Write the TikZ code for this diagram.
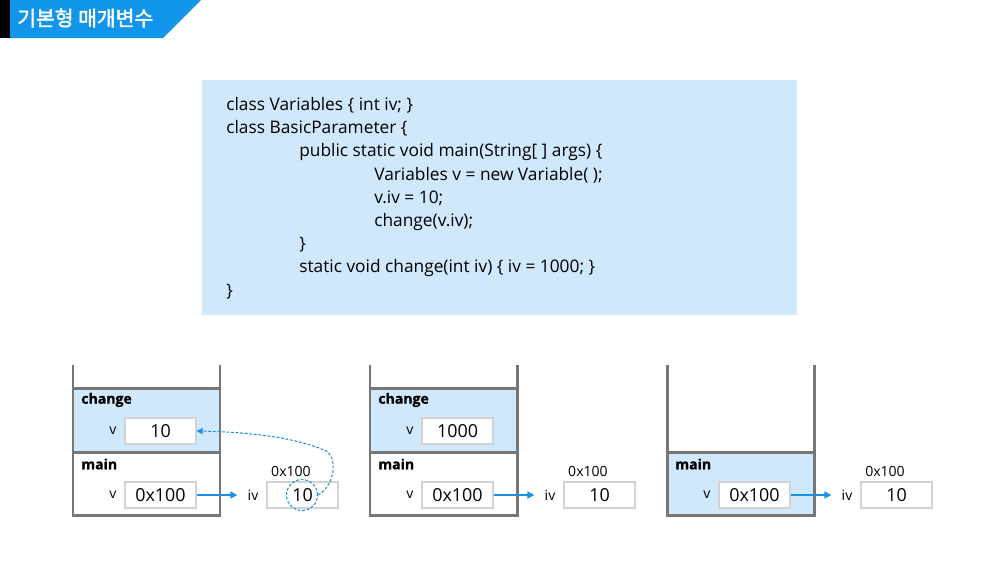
\documentclass[tikz,border=0pt]{standalone}
\usepackage{fontspec}
\setmainfont{Open Sans}
\newfontfamily\heavyfont{Open Sans}[BoldFeatures={FakeBold=0.8}]
\newfontfamily\krfont{Noto Sans CJK KR}[AutoFakeBold=2, BoldFeatures={FakeBold=1.2}]
\usetikzlibrary{arrows.meta}
\definecolor{banner}{HTML}{1296EB}
\definecolor{codebg}{HTML}{CFE8FB}
\definecolor{wallgray}{HTML}{767676}
\definecolor{boxgray}{HTML}{D2D2D2}
\definecolor{ptrblue}{HTML}{1A8FE6}
\newcommand{\fs}[1]{\fontsize{#1}{#1}\selectfont}
\tikzset{
  wall/.style={draw=wallgray, line width=1.7pt},
  frame/.style={fill=codebg},
  titletext/.style={text=white, font=\krfont\bfseries\fs{11.6pt}, inner sep=0pt, anchor=west},
  codetext/.style={font=\fs{9.85pt}, inner sep=0pt, anchor=west},
  fname/.style={font=\heavyfont\bfseries\fs{8pt}, inner sep=0pt, anchor=west},
  vname/.style={font=\fs{8pt}, inner sep=0pt},
  addr/.style={font=\fs{8pt}, inner sep=0pt},
  valbox/.style={draw=boxgray, fill=white, line width=0.6pt, minimum width=14.2mm,
    minimum height=5.2mm, inner sep=0pt, font=\fs{10.2pt}},
  ptr/.style={draw=ptrblue, line width=1.1pt, -{Triangle[length=4pt,width=4pt]}},
  ptrdash/.style={draw=ptrblue, line width=0.6pt, dash pattern=on 1.6pt off 1pt,
    -{Triangle[length=3.5pt,width=3.5pt]}},
  every node/.style={text=black}
}
\newcommand{\StackWalls}[1]{%
  \draw[wall] ({#1+73},365) -- ({#1+73},515) -- ({#1+220},515) -- ({#1+220},365);
}

\begin{document}
\begin{tikzpicture}[x=0.2mm,y=-0.2mm]
  \useasboundingbox (0,0) rectangle (1000,563);

  % title banner
  \fill[black] (0,0) rectangle (10,38);
  \fill[banner] (10,0) -- (201,0) -- (163,38) -- (10,38) -- cycle;
  \node[titletext] (title) at (17,18) {기본형 매개변수};

  % source code
  \fill[codebg] (202,80) rectangle (797,315);
  \foreach \ind/\txt [count=\i from 0] in {
      226/{class Variables \{ int iv; \}},
      226/{class BasicParameter \{},
      299/{public static void main(String[ ] args) \{},
      374/{Variables v = new Variable( );},
      374/{v.iv = 10;},
      374/{change(v.iv);},
      299/{\}},
      299/{static void change(int iv) \{ iv = 1000; \}},
      226/{\}}}
    \node[codetext] (code\i) at (\ind,{105+23.3*\i}) {\txt};

  % stack 1: change is running
  \fill[frame] (73,388) rectangle (220,452);
  \StackWalls{0}
  \draw[wall] (73,388) -- (220,388);
  \draw[wall] (73,452) -- (220,452);
  \node[fname] (cha) at (81,400) {change};
  \node[vname] (lca) at (113,431) {v};
  \node[valbox] (vca) at (160.5,431) {10};
  \node[fname] (maa) at (81,464) {main};
  \node[vname] (lma) at (113,495) {v};
  \node[valbox] (vma) at (160.5,495) {0x100};
  \node[vname] (iva) at (253,495) {iv};
  \node[valbox] (hpa) at (302.5,495) {10};
  \node[addr] (ada) at (291,471) {0x100};
  \node[circle, draw=ptrblue, line width=0.6pt, dash pattern=on 1.6pt off 1pt,
    minimum size=6.2mm, inner sep=0pt] (circ) at (302,495) {};
  \draw[ptr, shorten >=2mm] (vma) -- (iva);
  \draw[ptrdash] (circ.east) .. controls (333,487) and (338,462) .. (328,452)
    .. controls (300,438) and (250,432) .. (vca.east);

  % stack 2: iv = 1000
  \fill[frame] (370,388) rectangle (517,452);
  \StackWalls{297}
  \draw[wall] (370,388) -- (517,388);
  \draw[wall] (370,452) -- (517,452);
  \node[fname] (chb) at (378,400) {change};
  \node[vname] (lcb) at (410,431) {v};
  \node[valbox] (vcb) at (457.5,431) {1000};
  \node[fname] (mab) at (378,464) {main};
  \node[vname] (lmb) at (410,495) {v};
  \node[valbox] (vmb) at (457.5,495) {0x100};
  \node[vname] (ivb) at (550,495) {iv};
  \node[valbox] (hpb) at (599.5,495) {10};
  \node[addr] (adb) at (588,471) {0x100};
  \draw[ptr, shorten >=2mm] (vmb) -- (ivb);

  % stack 3: back in main
  \fill[frame] (667,452) rectangle (814,515);
  \StackWalls{594}
  \draw[wall] (667,452) -- (814,452);
  \node[fname] (mac) at (675,464) {main};
  \node[vname] (lmc) at (707,495) {v};
  \node[valbox] (vmc) at (754.5,495) {0x100};
  \node[vname] (ivc) at (847,495) {iv};
  \node[valbox] (hpc) at (896.5,495) {10};
  \node[addr] (adc) at (885,471) {0x100};
  \draw[ptr, shorten >=2mm] (vmc) -- (ivc);
\end{tikzpicture}
\end{document}
